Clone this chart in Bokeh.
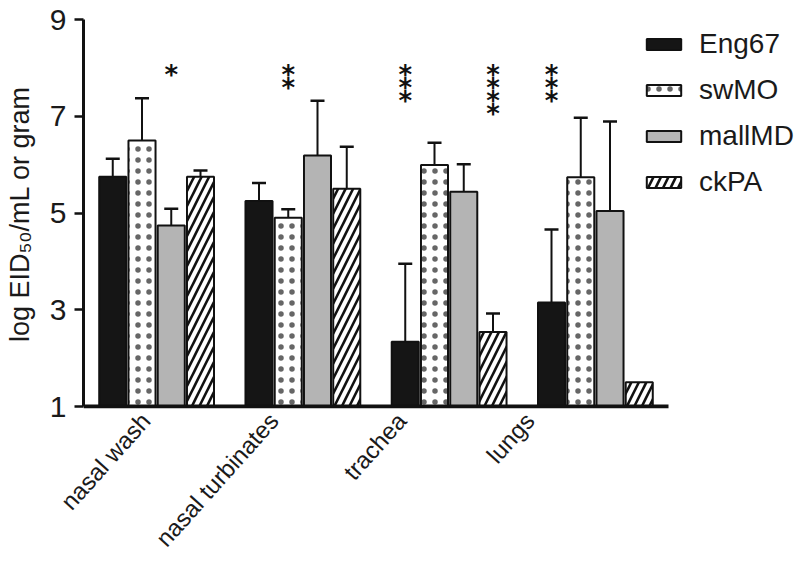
import math
from bokeh.plotting import figure
from bokeh.models import (ColumnDataSource, Range1d, FixedTicker,
                          Whisker, TeeHead, Legend, LegendItem)
from bokeh.core.properties import value
from bokeh.embed import file_html
from bokeh.resources import INLINE

# ---- data ----
tissues = ["nasal wash", "nasal turbinates", "trachea", "lungs"]
viruses = ["Eng67", "swMO", "mallMD", "ckPA"]

eng67 = [5.75, 5.25, 2.34, 3.15]
eng67_err = [0.37, 0.37, 1.61, 1.51]
swmo = [6.50, 4.90, 5.99, 5.74]
swmo_err = [0.87, 0.18, 0.46, 1.23]
mallmd = [4.74, 6.19, 5.44, 5.04]
mallmd_err = [0.35, 1.13, 0.57, 1.85]
ckpa = [5.75, 5.50, 2.54, 1.50]
ckpa_err = [0.13, 0.87, 0.38, None]

star_tissue = ["nasal wash", "nasal turbinates", "trachea", "trachea", "lungs"]
star_virus = ["mallMD", "swMO", "Eng67", "ckPA", "Eng67"]
star_count = [1, 2, 3, 4, 3]
star_level = 7.85

y_ticks = [1, 3, 5, 7, 9]
y_min, y_max = 1, 9

# ---- style / layout ----
FONT = "Liberation Sans"
TXT = "#1a1a1a"
offsets = {"Eng67": -0.3, "swMO": -0.1, "mallMD": 0.1, "ckPA": 0.3}
bar_w = 0.185
styles = {
    "Eng67": dict(fill_color="#151515"),
    "swMO": dict(fill_color="white", hatch_pattern="dot", hatch_color="#666666",
                 hatch_scale=11, hatch_weight=0.5),
    "mallMD": dict(fill_color="#b4b4b4"),
    "ckPA": dict(fill_color="white", hatch_pattern="right_diagonal_line",
                 hatch_color="#111111", hatch_scale=15, hatch_weight=2.6),
}
series = {"Eng67": (eng67, eng67_err), "swMO": (swmo, swmo_err),
          "mallMD": (mallmd, mallmd_err), "ckPA": (ckpa, ckpa_err)}

W, H = 800, 564
left, top = 83, 19
axis_px = 406                  # pixel row of the category axis line
pad_px = 2                     # frame extends slightly below the axis line
cat_px = 585.0 / len(tissues)  # pixels per category
x_end = (W - left) / cat_px
px_per_unit = (axis_px - top) / (y_max - y_min)
y_start = y_min - pad_px / px_per_unit
bottom = H - axis_px - pad_px

p = figure(width=W, height=H, output_backend="svg", toolbar_location=None,
           x_range=Range1d(0, x_end), y_range=Range1d(y_start, y_max),
           min_border_left=left, min_border_right=0, min_border_top=top,
           min_border_bottom=bottom)
p.outline_line_color = None
p.grid.grid_line_color = None

centers = {t: i + 0.5 for i, t in enumerate(tissues)}

items = []
for v in viruses:
    vals, errs = series[v]
    xs = [centers[t] + offsets[v] for t in tissues]
    src = ColumnDataSource(dict(x=xs, top=vals))
    r = p.vbar(x="x", top="top", bottom=y_min, width=bar_w, source=src,
               line_color="#111111", line_width=2, **styles[v])
    items.append(LegendItem(label=v, renderers=[r]))
    keep = [i for i, e in enumerate(errs) if e is not None]
    esrc = ColumnDataSource(dict(x=[xs[i] for i in keep],
                                 lo=[vals[i] for i in keep],
                                 hi=[vals[i] + errs[i] for i in keep]))
    w = Whisker(base="x", lower="lo", upper="hi", source=esrc, dimension="height",
                line_color="#111111", line_width=2,
                upper_head=TeeHead(size=14, line_color="#111111", line_width=2.5),
                lower_head=None, level="underlay")
    p.add_layout(w)

# category axis line spanning only the categories
p.segment(x0=[0], x1=[len(tissues)], y0=[y_min], y1=[y_min],
          line_color="#111111", line_width=4)

# asterisks
sx, sy, so = [], [], []
for t, v, n in zip(star_tissue, star_virus, star_count):
    for k in range(n):
        sx.append(centers[t] + offsets[v])
        sy.append(star_level)
        so.append(k * 13)
ssrc = ColumnDataSource(dict(x=sx, y=sy, off=so))
p.text(x="x", y="y", y_offset="off", text=value("*"), source=ssrc,
       text_font=value("DejaVu Sans"), text_font_size="26px",
       text_font_style="bold", text_align="center", text_baseline="middle",
       text_color="#111111")

# y axis
p.yaxis.bounds = (y_min, y_max)
p.yaxis.ticker = FixedTicker(ticks=y_ticks)
p.yaxis.axis_label = "log EID\u2085\u2080/mL or gram"
p.yaxis.axis_label_text_font = FONT
p.yaxis.axis_label_text_font_style = "normal"
p.yaxis.axis_label_text_font_size = "27px"
p.yaxis.axis_label_text_color = TXT
p.yaxis.axis_label_standoff = 12
p.yaxis.major_label_text_font = FONT
p.yaxis.major_label_text_font_size = "30px"
p.yaxis.major_label_text_color = TXT
p.yaxis.major_label_standoff = 8
p.yaxis.major_tick_out = 9
p.yaxis.major_tick_in = 0
p.yaxis.minor_tick_line_color = None
p.yaxis.axis_line_width = 3
p.yaxis.major_tick_line_width = 2.5
p.yaxis.axis_line_color = "#111111"
p.yaxis.major_tick_line_color = "#111111"

# x axis: rotated category labels, right end of each label under its group
label_shift, label_drift = 0.075, 0.125
lx = [centers[t] - label_shift - label_drift * i for i, t in enumerate(tissues)]
p.xaxis.ticker = FixedTicker(ticks=lx)
p.xaxis.major_label_overrides = {x: t for x, t in zip(lx, tissues)}
p.xaxis.major_label_orientation = 0.84
p.xaxis.major_label_text_font = FONT
p.xaxis.major_label_text_font_size = "24px"
p.xaxis.major_label_text_color = TXT
p.xaxis.major_label_standoff = 8
p.xaxis.major_tick_line_color = None
p.xaxis.major_tick_out = 0
p.xaxis.major_tick_in = 0
p.xaxis.minor_tick_line_color = None
p.xaxis.axis_line_color = None

legend = Legend(items=items, location=(559, 210), orientation="vertical",
                background_fill_alpha=0, border_line_color=None,
                glyph_width=43, glyph_height=14, label_text_font=FONT,
                label_text_font_size="28px", label_text_color=TXT,
                label_standoff=14, spacing=14, padding=8, margin=0)
p.add_layout(legend)

open("out.html", "w").write(file_html(p, INLINE))
